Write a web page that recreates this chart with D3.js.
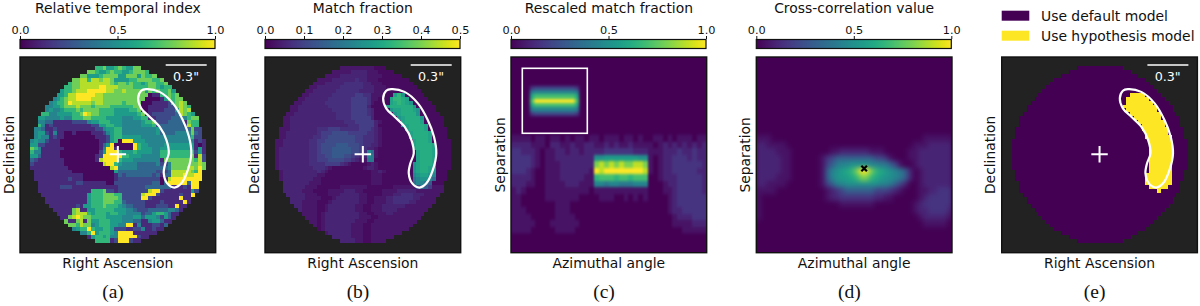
<!DOCTYPE html>
<html>
<head>
<meta charset="utf-8">
<script src="https://cdn.jsdelivr.net/npm/d3@7"></script>
<style>
	html, body { margin: 0; padding: 0; background: #fff; }
	svg { display: block; }
	text { font-family: "DejaVu Sans", sans-serif; fill: #111; }
</style>
</head>
<body>
<svg id="fig" width="1200" height="306"></svg>
<script>
// each character is an index into the level list of its map, spaces are only for reading
const temporalLevels = [0.02, 0.12, 0.22, 0.33, 0.45, 0.55, 0.66, 0.78, 0.89, 1];
const temporalRows = [
	"667556765577",
	"7765567665567776",
	"77555677775577757667",
	"778868878875555667777667",
	"67788888888767767665677667",
	"6677888889988877776666776566",
	"566788899999887787777757676675",
	"5568 899999887 77777777777 011 66767",
	"4567 88999988877 777777777 00001 57677",
	"4566 798888878877 77767777 0001111 26787",
	"4455 6777877767777 66666677 00111112 27876",
	"4544 566676777766 665555667 001111222 5878",
	"6644 555566798776 6665555556 7012222223 8765",
	"5544 445446667766 665555444556 6112222333 4677",
	"4433 111112222 4556 66555444445 6672223333 1766",
	"6412 111111111122 556655444445 5562333333 2866",
	"4431 1211111111112 2455664444 444445 33333333 722",
	"4552 1411001000011 1245664444 444445 33334444 732",
	"4544 1211000000001 1125665555 544444 44444444 622",
	"4544 2111000000000 011256 0999 5554444 444444444 121",
	"5522 1111000000000 0135 9000009 655444 455555555 101",
	"7641 111110000000 0014 99 10000 9 655544 555555555 151",
	"6441 111100000000 0025 999 65556 555544 666666666 251",
	"5531 111100000000 012 99999 66555 44444 666666667 182",
	"3211 111110000000 01 89999 655544 44444 177777777 682",
	"2111 111110000000 000 899 654444 333334 224777777 787",
	"1111 1111110000000 0000 89 44444 333333 334777788 797",
	"111 11111110000000000 05 33333 333332 22388888 769",
	"111 111111111100000000 1 32333 333323 13388898 899",
	"111 111111211100000000 122222 222222 01899999 999",
	"111 11111112211111100 222222 222233 0399999 399",
	"111 11122211111111111 122222 223333 3331112 199",
	"111 11111111111 6667 22 122222 222899 2111111 152",
	"111 111111111 566677766 2222 289992 111112 119",
	"11 111111111 566677776 22222 99211 111119 11",
	"11111111111 566677766 322222 111121 111191",
	"111111121 5566676665 433222 111222 11911",
	"1111 17811 556666655 544322 233333 4431",
	"1111 78886 56665665 544442 335665 311",
	"117 89877 66665555 444553 555425 31",
	"7117817 55666555 444331 1455311",
	"776877 45666554 499141 112213",
	"456696 5566522 211224 11211",
	"446956 6654 99991 11111",
	"156656 44 99999 211",
	"666612999211"
];

const matchLevels = [0, 0.015, 0.03, 0.05, 0.07, 0.09, 0.115, 0.14, 0.17, 0.2, 0.23, 0.26, 0.29, 0.31, 0.33, 0.35];
const matchRows = [
	"222222222111",
	"2222233332221111",
	"22223333333222211111",
	"222233333343322211111111",
	"22233333444443322211111111",
	"2233333344444433322211111111",
	"223333334444443333222111111111",
	"223333334444445544222111 ceb 11111",
	"223333334444445555422111 ceedc 11111",
	"2233333344444445555421111 cdedcb 11111",
	"2233333333444444555531111 cddddddb 11111",
	"22333333333444445555431111 bccdddcb 1111",
	"2233333333333444455554311111 bcddddb 11111",
	"223333333333334444555553111111 bcddddb 11111",
	"2233333333333333444555553211111 cddddc 11111",
	"2233333333333333344455553111111 bcddddc 1111",
	"222333333344455544444555432111111 cddddc 11111",
	"2233333333455566665555544321111111 cddddc 1111",
	"2233333334455666666655444321111111 cddddc 1111",
	"223333333445566666666554443211111111 cdddc 11111",
	"223333333445666677766654433211111111 cddddc 1111",
	"233333333445666777776654332111111111 cddddc 1111",
	"23333333344566677777665 4a8 21111111111 cdddc 1111",
	"23333333344556677766543 3a9 21111111111 cdddc 1111",
	"23333333344555666655432 299 11111111111 cdddc 1111",
	"233333333444455554321111232111111111 bcdddc 1111",
	"233333333344432111111112332111111111 bcddcb 1111",
	"23333333334321111111111122321111111 bcddcb 111",
	"23333333332211111111111122211111111 abccba 111",
	"23333333322111111111111122211111111 9abba8 111",
	"3333333222111111111111122211111111 8aa97 111",
	"33333322211111122222221111111222222 6875 222",
	"333332221111222233322111112222333332222222",
	"3333322211122233333221111222334443332222",
	"33332222111233333322112223344444332222",
	"33322221112333333322112223344443322222",
	"332222112333333322112223333332222222",
	"3222211233333332211222333322222222",
	"22221233333333322112223322222222",
	"222123333333332221122222222222",
	"2212333333332221122222222222",
	"21233333332221122222222222",
	"123333333222112222222222",
	"23333332221122222222",
	"3333322211222222",
	"333322112222"
];

const smoothLevels = [0, 0.05, 0.1, 0.15, 0.2, 0.3, 0.4, 0.45, 0.5, 0.55, 0.6, 0.65, 0.7, 0.8, 0.9, 1];
const rescaledRows = [
	"0000000000 0000000000 0000000000 0000000000",
	"0000000000 0000000000 0000000000 0000000000",
	"0000000000 0000000000 0000000000 0000000000",
	"0000000000 0000000000 0000000000 0000000000",
	"0000000000 0000000000 0000000000 0000000000",
	"0000000000 0000000000 0000000000 0000000000",
	"0000000000 0000000000 0000000000 0000000000",
	"0000000000 0000000000 0000000000 0000000000",
	"0000000000 0000000000 0000000000 0000000000",
	"0000000000 0000000000 0000000000 0000000000",
	"0000000000 0000000000 0000000000 0000000000",
	"0000000000 0000000000 0000000000 0000000000",
	"11110110110101101 10111011010 011010111011",
	"22221110221121122 11212112111 101212121212",
	"33222101122122122 22333333222 111222322322",
	"33332101122222222 88999999988 101223332322",
	"33332101112222222 dedededdeed 101223333332",
	"33321001112222221 feffffffffe 101223333322",
	"22221001112222211 bcccbccbccc 001222333332",
	"22211001111222111 77677666777 000122333332",
	"12100001111111110 11111111111 000112333332",
	"11000001111111000 01110010101 000012333333",
	"11000000011100000 00000000000 000012333333",
	"11100000011100000 00000000000 000012233333",
	"11110000011110000 00000000000 000001222333",
	"11111000111111000 00000000000 000001111222",
	"11110000011110000 00000000000 000000011111",
	"0000000000 0000000000 0000000000 0000000000",
	"0000000000 0000000000 0000000000 0000000000",
	"0000000000 0000000000 0000000000 0000000000"
];

const insetRows = [
	"0000000000000000",
	"0000000000000000",
	"0000000000000000",
	"0000000000000000",
	"0034444444444300",
	"0067777777777600",
	"00acccccccccca00",
	"00cffffffffffc00",
	"00acccccccccca00",
	"0067777777777600",
	"0034444444444300",
	"0000000000000000",
	"0000000000000000",
	"0000000000000000",
	"0000000000000000"
];

const correlationRows = [
	"0000000000 0000000000 0000000000 0000000000",
	"0000000000 0000000000 0000000000 0000000000",
	"0000000000 0000000000 0000000000 0000000000",
	"0000000000 0000000000 0000000000 0000000000",
	"0000000000 0000000000 0000000000 0000000000",
	"0000000000 0000000000 0000000000 0000000000",
	"0000000000 0000000000 0000000000 0000000000",
	"0000000000 0000000000 0000000000 0000000000",
	"0000000000 0000000000 0000000000 0000000000",
	"0000000000 0000000000 0000000000 0000000000",
	"0000000000 0000000000 0000000000 0000000000",
	"0000000000 0000000000 0000000000 0000000000",
	"1110000000 0000000000 0000000000 0000111111",
	"2211110000 0000000000 0000000000 0011122222",
	"2222111000 0000011222 2221110000 0112222222",
	"2222211000 0001345555 5555443100 0112222222",
	"2222211000 0001456778 8887766541 0012222222",
	"2222211000 0001578 9ab dffdba9876 5201222222",
	"2222111000 0001578 99a bddba98876 5201222222",
	"2211110000 0001457788 8888877654 2001222222",
	"1111000000 0000123455 5555444321 0001122333",
	"1000000000 0000122333 3333221100 0001233333",
	"1000000000 0000000111 1111000000 0012333333",
	"1000000000 0000000000 0000000000 0012233332",
	"1000000000 0000000000 0000000000 0001222221",
	"0000000000 0000000000 0000000000 0000111110",
	"0000000000 0000000000 0000000000 0000000000",
	"0000000000 0000000000 0000000000 0000000000",
	"0000000000 0000000000 0000000000 0000000000",
	"0000000000 0000000000 0000000000 0000000000"
];

// aperture width per row and the cells that use the hypothesis model
const apertureWidths = [12,16,20,24,26,28,30,32,34,36,38,38,40,42,42,42,44,44,44,46,46,46,46,46,46,46,46,44,44,44,42,42,42,40,38,38,36,34,32,30,28,26,24,20,16,12];
const hypothesisRow = [7,8,9,10,11,12,13,14,15,16,17,18,19,20,21,22,23,24,25,26,27,28,29,30,31,32];
const hypothesisFrom = [31,30,30,29,30,31,32,33,34,34,35,35,36,36,36,36,36,36,36,36,36,35,35,35,36,38];
const hypothesisTo = [34,35,36,37,37,38,38,39,39,40,40,41,41,41,41,41,41,41,41,41,41,41,41,41,40,38];

// planet path outline, in aperture cells
const outlineCol = [30.4,33.9,37.4,40,41.6,42.2,41.3,39.6,37.8,35.9,35,35.4,36.3,35.7,33.9,31.3,29.1,28.3,29.1];
const outlineRow = [6,6.7,9.7,14.1,18.4,22.8,27.1,30.6,31.7,30.6,28,25.4,22.8,19.3,15.8,13.2,11,8.4,6.4];

const panelLetters = ["(a)", "(b)", "(c)", "(d)", "(e)"];
const panelLeft = [20, 265, 511, 756.3, 1001.7];
const colorbarTitles = ["Relative temporal index", "Match fraction", "Rescaled match fraction", "Cross-correlation value"];
const colorbarMax = [1, 0.5, 1, 1];
const colorbarTicks = [[0, 0.5, 1], [0, 0.1, 0.2, 0.3, 0.4, 0.5], [0, 0.5, 1], [0, 0.5, 1]];
const xLabels = ["Right Ascension", "Right Ascension", "Azimuthal angle", "Azimuthal angle", "Right Ascension"];
const yLabels = ["Declination", "Declination", "Separation", "Separation", "Declination"];
const legendLabels = ["Use default model", "Use hypothesis model"];
const legendValues = [0, 1];

const panelSize = 195.7, panelTop = 57, gridPad = 9.85, labelSize = 13.9;
const purple = "#440154", yellow = "#fde725", backdrop = "#222222";

var svg = d3.select("#fig");
var defs = svg.append("defs");
var color = d3.scaleSequential(d3.interpolateViridis).domain([0, 1]);

function addBlur(id, sx, sy) {
	defs.append("filter").attr("id", id)
		.attr("x", "-5%").attr("y", "-5%").attr("width", "110%").attr("height", "110%")
		.attr("color-interpolation-filters", "sRGB")
		.append("feGaussianBlur").attr("stdDeviation", sx + " " + sy);
}
addBlur("soft", 0.45, 0.45);
addBlur("smearC", 1.2, 1.6);
addBlur("smearD", 2.8, 2.8);
addBlur("smearInset", 1.6, 1.6);

var gradient = defs.append("linearGradient").attr("id", "viridis");
d3.range(0, 1.001, 0.05).forEach(function(t) {
	gradient.append("stop").attr("offset", t).attr("stop-color", color(t));
});

function parseRows(rows) {
	return rows.map(function(r) {
		return r.replace(/ /g, "").split("").map(function(c) { return parseInt(c, 16); });
	});
}

// cells of a map that fills the aperture, as {row, col, v}
function apertureCells(rows) {
	var cells = [];
	parseRows(rows).forEach(function(vals, r) {
		var w = apertureWidths[r], offset = (46 - w) / 2;
		d3.range(w).forEach(function(i) {
			cells.push({row: r, col: offset + i, v: i < vals.length ? vals[i] : vals[vals.length - 1]});
		});
	});
	return cells;
}

function gridCells(rows) {
	var cells = [];
	parseRows(rows).forEach(function(vals, r) {
		vals.forEach(function(v, i) { cells.push({row: r, col: i, v: v}); });
	});
	return cells;
}

function drawCells(g, cells, xBand, yBand, fill) {
	g.selectAll("rect.cell").data(cells).enter().append("rect")
		.attr("class", "cell")
		.attr("x", function(d) { return xBand(d.col); })
		.attr("y", function(d) { return yBand(d.row); })
		.attr("width", xBand.bandwidth() + 0.4)
		.attr("height", yBand.bandwidth() + 0.4)
		.attr("shape-rendering", "crispEdges")
		.attr("fill", fill);
}

function drawFrame(g, x0) {
	g.append("rect").attr("x", x0).attr("y", panelTop)
		.attr("width", panelSize).attr("height", panelSize)
		.attr("fill", "none").attr("stroke", "#111").attr("stroke-width", 1.4);
}

function drawLabels(i) {
	var x0 = panelLeft[i], mid = x0 + panelSize / 2;
	svg.append("text").attr("x", mid).attr("y", 267.5).attr("text-anchor", "middle")
		.attr("font-size", labelSize).text(xLabels[i]);
	svg.append("text").attr("transform", "translate(" + (x0 - 6.5) + "," + (panelTop + panelSize / 2) + ") rotate(-90)")
		.attr("text-anchor", "middle").attr("font-size", labelSize).text(yLabels[i]);
	svg.append("text").attr("x", x0 + 93).attr("y", 298).attr("text-anchor", "middle")
		.attr("font-size", 19.5).style("font-family", "'Liberation Serif', serif").text(panelLetters[i]);
}

function drawColorbar(i) {
	var x0 = panelLeft[i];
	var scale = d3.scaleLinear().domain([0, colorbarMax[i]]).range([x0, x0 + panelSize - 0.7]);
	svg.append("rect").attr("x", x0).attr("y", 39.5).attr("width", panelSize - 0.7).attr("height", 9)
		.attr("fill", "url(#viridis)").attr("stroke", "#111").attr("stroke-width", 1.2);
	var axis = svg.append("g").attr("transform", "translate(0,39)")
		.call(d3.axisTop(scale).tickValues(colorbarTicks[i]).tickFormat(d3.format(".1f")).tickSize(3).tickPadding(2));
	axis.select(".domain").remove();
	axis.selectAll("text").attr("font-size", 11.3).style("font-family", "'DejaVu Sans'").attr("fill", "#111");
	axis.selectAll("line").attr("stroke", "#111");
	svg.append("text").attr("x", x0 + panelSize / 2).attr("y", 13).attr("text-anchor", "middle")
		.attr("font-size", labelSize).text(colorbarTitles[i]);
}

function apertureScales(i) {
	var x0 = panelLeft[i];
	return {
		band: d3.scaleBand().domain(d3.range(46)).range([x0 + gridPad, x0 + panelSize - gridPad]),
		bandY: d3.scaleBand().domain(d3.range(46)).range([panelTop + gridPad - 0.6, panelTop + panelSize - gridPad - 0.6]),
		x: d3.scaleLinear().domain([0, 46]).range([x0 + gridPad, x0 + panelSize - gridPad]),
		y: d3.scaleLinear().domain([0, 46]).range([panelTop + gridPad - 0.6, panelTop + panelSize - gridPad - 0.6])
	};
}

function drawAperturePanel(i, cells, fill) {
	var x0 = panelLeft[i], s = apertureScales(i);
	svg.append("rect").attr("x", x0).attr("y", panelTop).attr("width", panelSize).attr("height", panelSize).attr("fill", backdrop);
	var g = svg.append("g").attr("filter", "url(#soft)");
	drawCells(g, cells, s.band, s.bandY, fill);

	var outline = d3.line().curve(d3.curveCatmullRomClosed)
		.x(function(d) { return s.x(d[0]); }).y(function(d) { return s.y(d[1]); });
	svg.append("path").datum(d3.zip(outlineCol, outlineRow)).attr("d", outline)
		.attr("fill", "none").attr("stroke", "#fff").attr("stroke-width", 2.2);

	svg.append("path").attr("d", d3.symbol(d3.symbolPlus, 90)())
		.attr("transform", "translate(" + s.x(23) + "," + s.y(23) + ")")
		.attr("fill", "none").attr("stroke", "#fff").attr("stroke-width", 2);

	// scale bar
	svg.append("line").attr("x1", x0 + 145.7).attr("x2", x0 + 186.7).attr("y1", 65).attr("y2", 65)
		.attr("stroke", "#fff").attr("stroke-width", 1.6);
	svg.append("text").attr("x", x0 + 166).attr("y", 81).attr("text-anchor", "middle")
		.attr("font-size", 12.7).style("fill", "#fff").text("0.3\"");
	drawFrame(svg, x0);
}

function drawSmoothPanel(i, rows, filterId, id) {
	var x0 = panelLeft[i];
	var clip = defs.append("clipPath").attr("id", id);
	clip.append("rect").attr("x", x0).attr("y", panelTop).attr("width", panelSize).attr("height", panelSize);
	var grid = parseRows(rows);
	var xBand = d3.scaleBand().domain(d3.range(grid[0].length)).range([x0, x0 + panelSize]);
	var yBand = d3.scaleBand().domain(d3.range(grid.length)).range([panelTop, panelTop + panelSize]);
	var outer = svg.append("g").attr("clip-path", "url(#" + id + ")");
	outer.append("rect").attr("x", x0).attr("y", panelTop).attr("width", panelSize).attr("height", panelSize).attr("fill", purple);
	var g = outer.append("g").attr("filter", "url(#" + filterId + ")");
	drawCells(g, gridCells(rows), xBand, yBand, function(d) { return color(smoothLevels[d.v]); });
}

// (a)
var temporalCells = apertureCells(temporalRows);
drawAperturePanel(0, temporalCells, function(d) { return color(temporalLevels[d.v]); });

// (b)
var matchCells = apertureCells(matchRows);
drawAperturePanel(1, matchCells, function(d) { return color(matchLevels[d.v] / colorbarMax[1]); });

// (c)
drawSmoothPanel(2, rescaledRows, "smearC", "clipC");
(function() {
	var insetX = panelLeft[2] + 11.3, insetY = 68.3, insetSize = 65;
	var grid = parseRows(insetRows);
	var xBand = d3.scaleBand().domain(d3.range(grid[0].length)).range([insetX, insetX + insetSize]);
	var yBand = d3.scaleBand().domain(d3.range(grid.length)).range([insetY, insetY + insetSize]);
	var outer = svg.append("g");
	outer.append("rect").attr("x", insetX).attr("y", insetY).attr("width", insetSize).attr("height", insetSize).attr("fill", purple);
	var g = outer.append("g").attr("filter", "url(#smearInset)");
	drawCells(g, gridCells(insetRows), xBand, yBand, function(d) { return color(smoothLevels[d.v]); });
	outer.append("rect").attr("x", insetX).attr("y", insetY).attr("width", insetSize).attr("height", insetSize)
		.attr("fill", "none").attr("stroke", "#fff").attr("stroke-width", 1.6);
})();
drawFrame(svg, panelLeft[2]);

// (d)
drawSmoothPanel(3, correlationRows, "smearD", "clipD");
(function() {
	var x0 = panelLeft[3];
	var px = d3.scaleLinear().domain([0, 1]).range([x0, x0 + panelSize]);
	var py = d3.scaleLinear().domain([0, 1]).range([panelTop, panelTop + panelSize]);
	svg.append("path").attr("d", d3.symbol(d3.symbolX, 22)())
		.attr("transform", "translate(" + px(0.551) + "," + py(0.57) + ")")
		.attr("fill", "none").attr("stroke", "#000").attr("stroke-width", 2.2);
})();
drawFrame(svg, panelLeft[3]);

// (e)
var hypothesisCells = [];
apertureWidths.forEach(function(w, r) {
	var offset = (46 - w) / 2;
	d3.range(w).forEach(function(i) {
		var col = offset + i, k = hypothesisRow.indexOf(r);
		var on = k >= 0 && col >= hypothesisFrom[k] && col <= hypothesisTo[k];
		hypothesisCells.push({row: r, col: col, v: on ? 1 : 0});
	});
});
drawAperturePanel(4, hypothesisCells, function(d) { return d.v ? yellow : purple; });

var legendY = d3.scalePoint().domain(legendValues).range([15.7, 35.7]);
legendValues.forEach(function(v, i) {
	svg.append("rect").attr("x", panelLeft[4]).attr("y", legendY(v) - 5).attr("width", 27.6).attr("height", 10)
		.attr("fill", v ? yellow : purple);
	svg.append("text").attr("x", 1041).attr("y", legendY(v) + 5).attr("font-size", labelSize).text(legendLabels[i]);
});

panelLeft.forEach(function(x, i) { drawLabels(i); });
colorbarTitles.forEach(function(t, i) { drawColorbar(i); });
</script>
</body>
</html>
